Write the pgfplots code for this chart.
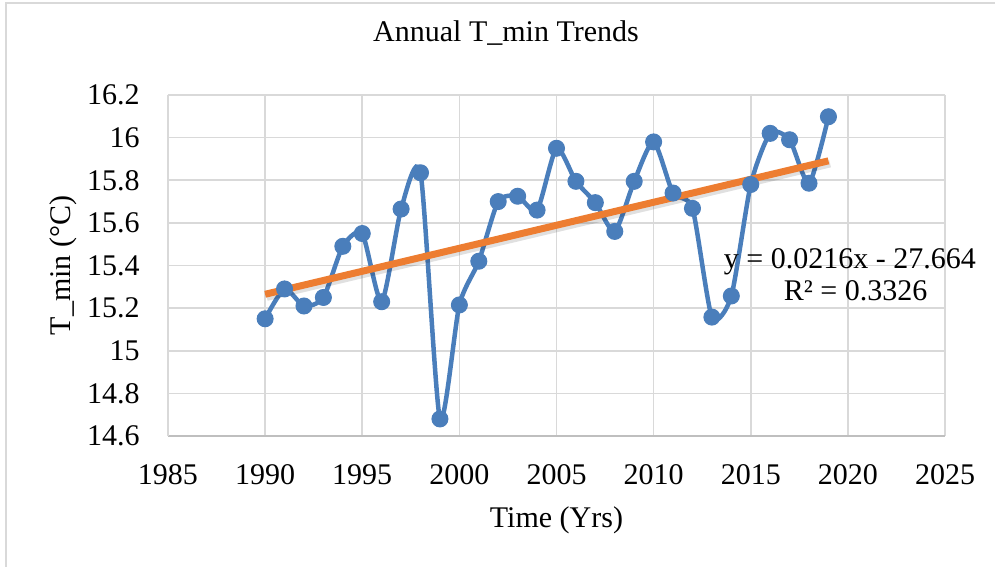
\documentclass[border=0pt]{standalone}
\usepackage{fontspec}
\setmainfont{Liberation Serif}
\usepackage{pgfplots}
\usepackage{pgfplotstable}
\pgfplotsset{compat=1.18}

\definecolor{gridgray}{RGB}{217,217,217}
\definecolor{axisgray}{RGB}{191,191,191}
\definecolor{serblue}{RGB}{74,126,187}
\definecolor{trendorange}{RGB}{237,125,49}

% annual minimum temperature
\pgfplotstableread{
year tmin
1990 15.15
1991 15.29
1992 15.21
1993 15.25
1994 15.49
1995 15.55
1996 15.23
1997 15.665
1998 15.835
1999 14.68
2000 15.215
2001 15.42
2002 15.70
2003 15.725
2004 15.66
2005 15.95
2006 15.795
2007 15.695
2008 15.56
2009 15.795
2010 15.98
2011 15.74
2012 15.668
2013 15.158
2014 15.257
2015 15.78
2016 16.02
2017 15.99
2018 15.786
2019 16.098
}\tmindata

\begin{document}
\fontsize{15}{18}\selectfont
\begin{tikzpicture}
\useasboundingbox (-84pt,-65.5pt) rectangle (413.5pt,218pt);
\draw[gridgray, line width=1pt] (-81pt,-65.5pt) -- (-81pt,216.5pt) -- (413.5pt,216.5pt);
\begin{axis}[
    scale only axis,
    width=388.5pt,
    height=170.5pt,
    xmin=1985, xmax=2025,
    ymin=14.6, ymax=16.2,
    xtick={1985,1990,...,2025},
    ytick={14.6,14.8,15,15.2,15.4,15.6,15.8,16,16.2},
    grid=major,
    major grid style={draw=gridgray, line width=0.8pt},
    axis x line*=bottom,
    axis y line*=left,
    x axis line style={draw=axisgray, line width=1pt},
    y axis line style={draw=gridgray, line width=0.8pt},
    major tick length=0pt,
    /pgf/number format/assume math mode=true,
    /pgf/number format/1000 sep={},
    xticklabel style={font=\fontsize{15}{18}\selectfont, anchor=base, inner sep=0pt, yshift=-24pt},
    yticklabel style={font=\fontsize{15}{18}\selectfont, anchor=east, inner sep=0pt, xshift=-14pt},
    title={Annual T\_min Trends},
    title style={font=\fontsize{15}{18}\selectfont, at={(axis description cs:0.435,1.123)}, anchor=base, inner sep=0pt},
    xlabel={Time (Yrs)},
    xlabel style={font=\fontsize{15}{18}\selectfont, at={(axis description cs:0.5,-0.267)}, anchor=base, inner sep=0pt},
    ylabel={T\_min (°C)},
    ylabel style={font=\fontsize{15}{18}\selectfont, at={(axis description cs:-0.126,0.5)}, anchor=base, inner sep=0pt},
    clip=false,
]
\addplot[serblue, line width=2.25pt, smooth, tension=0.4,
    mark=*, mark size=4pt, mark options={fill=serblue, draw=serblue, line width=0.5pt}]
    table[x=year, y=tmin]{\tmindata};
% linear trend (shadow, then line)
\addplot[black, opacity=0.12, line width=4pt, transform canvas={xshift=0.8pt, yshift=-1.3pt}]
    coordinates {(1990,15.265) (2019,15.891)};
\addplot[trendorange, line width=3.5pt]
    coordinates {(1990,15.265) (2019,15.891)};
\node[anchor=base, inner sep=0pt] at (axis cs:2020.1,15.388) {y = 0.0216x - 27.664};
\node[anchor=base, inner sep=0pt] at (axis cs:2020.4,15.238) {R² = 0.3326};
\end{axis}
\end{tikzpicture}
\end{document}
